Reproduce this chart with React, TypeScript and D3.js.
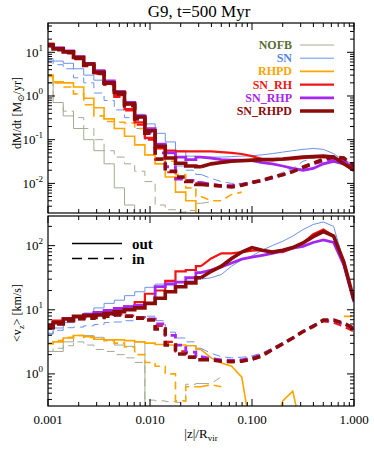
import React from "react";
import * as d3 from "d3";

// bin centres in |z|/R_vir (0.1 dex)
const zBins = [
  0.001, 0.00126, 0.00158, 0.002, 0.00251, 0.00316, 0.00398, 0.00501, 0.00631, 0.00794,
  0.01, 0.0126, 0.0158, 0.02, 0.0251, 0.0316, 0.0398, 0.0501, 0.0631, 0.0794,
  0.1, 0.126, 0.158, 0.2, 0.251, 0.316, 0.398, 0.501, 0.631, 0.794, 1.0,
];

const models = ["NOFB", "SN", "RHPD", "SN_RH", "SN_RHP", "SN_RHPD"];
const lineColors = ["#a3ab92", "#6b93ea", "#ffa500", "#f41414", "#a526ee", "#8b0a0a"];
const textColors = ["#5b6d33", "#5583e6", "#ffa500", "#f41414", "#a526ee", "#8b0a0a"];
const lineWidths = [1, 1, 1.6, 2.2, 2.8, 3.6];

// dM/dt [Msun/yr], outflow (solid)
const mdotOutNOFB = [2.0, 0.71, 0.35, 0.18, 0.1, 0.056, 0.028, 0.0079, 0.0032, 0.0006, null, null, null, null, null, null, null, null, null, null, null, null, null, null, null, null, null, null, null, null, null];
const mdotOutSN = [7.2, 6.3, 5.6, 4.2, 3.0, 2.3, 1.9, 1.3, 0.63, 0.38, 0.23, 0.14, 0.089, 0.056, 0.042, 0.04, 0.04, 0.04, 0.041, 0.042, 0.043, 0.045, 0.048, 0.052, 0.056, 0.06, 0.063, 0.06, 0.048, 0.033, 0.028];
const mdotOutRHPD = [3.0, 2.1, 2.0, 1.6, 0.89, 0.54, 0.3, 0.18, 0.12, 0.076, 0.045, 0.028, 0.014, 0.0063, 0.004, 0.001, null, null, null, null, null, null, null, null, null, null, null, null, null, null, null];
const mdotOutSNRH = [15.8, 12.6, 10.5, 7.9, 5.2, 3.3, 1.9, 1.05, 0.5, 0.25, 0.11, 0.063, 0.056, 0.054, 0.054, 0.054, 0.054, 0.052, 0.05, 0.047, 0.042, 0.036, 0.034, 0.035, 0.036, 0.038, 0.04, 0.04, 0.038, 0.032, 0.022];
const mdotOutSNRHP = [14.8, 12.6, 10.7, 7.9, 5.6, 3.8, 2.2, 1.26, 0.71, 0.35, 0.18, 0.079, 0.05, 0.04, 0.035, 0.04, 0.038, 0.035, 0.034, 0.034, 0.033, 0.03, 0.028, 0.025, 0.022, 0.02, 0.022, 0.028, 0.032, 0.028, 0.024];
const mdotOutSNRHPD = [14.8, 12.0, 10.2, 7.6, 5.4, 3.5, 2.0, 1.2, 0.66, 0.33, 0.16, 0.071, 0.038, 0.029, 0.025, 0.024, 0.028, 0.03, 0.032, 0.033, 0.034, 0.035, 0.035, 0.036, 0.038, 0.04, 0.041, 0.042, 0.04, 0.028, 0.02];

// dM/dt [Msun/yr], inflow (dashed)
const mdotInNOFB = [2.0, 0.71, 0.45, 0.32, 0.18, 0.1, 0.056, 0.04, 0.028, 0.019, 0.011, 0.0032, 0.0025, 0.0022, 0.0024, 0.0035, 0.0038, null, null, null, null, null, null, null, null, null, null, null, null, null, null];
const mdotInSN = [6.3, 5.2, 4.2, 2.6, 2.0, 1.17, 0.79, 0.48, 0.32, 0.18, 0.1, 0.063, 0.038, 0.025, 0.02, 0.016, 0.013, 0.011, 0.01, 0.01, 0.0105, 0.012, 0.014, 0.018, 0.022, 0.032, 0.038, 0.042, 0.04, 0.033, 0.025];
const mdotInRHPD = [2.8, 2.0, 1.6, 1.12, 0.63, 0.35, 0.26, 0.25, 0.24, 0.18, 0.11, 0.063, 0.032, 0.016, 0.0079, 0.005, 0.004, 0.004, 0.0056, 0.0063, null, null, null, null, null, null, null, null, null, null, null];
const mdotInSNRH = [15.1, 12.0, 10.0, 7.4, 5.0, 3.2, 1.8, 0.95, 0.47, 0.22, 0.1, 0.035, 0.018, 0.013, 0.011, 0.0093, 0.0089, 0.0085, 0.0087, 0.0095, 0.0107, 0.012, 0.0138, 0.0158, 0.019, 0.024, 0.03, 0.035, 0.038, 0.035, 0.024];
const mdotInSNRHP = [14.1, 12.0, 10.0, 7.6, 5.2, 3.5, 2.1, 1.17, 0.66, 0.32, 0.15, 0.05, 0.024, 0.0126, 0.0117, 0.0105, 0.0095, 0.0089, 0.0089, 0.0095, 0.0105, 0.0115, 0.0132, 0.0158, 0.019, 0.023, 0.028, 0.032, 0.035, 0.032, 0.024];
const mdotInSNRHPD = [14.1, 11.5, 9.8, 7.2, 5.0, 3.3, 2.0, 1.12, 0.6, 0.3, 0.14, 0.036, 0.019, 0.014, 0.011, 0.0095, 0.0091, 0.0087, 0.0083, 0.0091, 0.0105, 0.0117, 0.0138, 0.0158, 0.0186, 0.0234, 0.0288, 0.0355, 0.0407, 0.038, 0.025];

// <v_z> [km/s], outflow (solid)
const vzOutNOFB = [2.24, 2.24, 3.16, 3.98, 3.98, 3.72, 3.39, 2.82, 2.69, 3.16, 0.1, null, null, null, null, null, null, null, null, null, null, null, null, null, null, null, null, null, null, null, null];
const vzOutSN = [4.3, 5.2, 6.3, 7.4, 8.9, 10.7, 12.6, 14.1, 16.6, 19.1, 22.4, 25.1, 26.3, 27.5, 28.2, 30.2, 31.6, 35.5, 47.9, 60.3, 69.2, 85.1, 100, 117, 141, 178, 214, 234, 200, 56.2, 14.1];
const vzOutRHPD = [2.95, 3.16, 3.63, 3.98, 3.8, 3.47, 3.39, 3.39, 3.31, 3.16, 3.02, 2.88, 2.82, 2.82, 2.75, 2.4, 1.78, 1.48, 1.32, 0.89, 0.1, 0.1, 0.1, 0.38, 0.54, 0.1, null, null, null, null, null];
const vzOutSNRH = [5.9, 6.8, 7.4, 7.9, 8.3, 8.7, 9.3, 10, 11.2, 13.2, 17.8, 20, 28.2, 39.8, 41.7, 47.9, 63.1, 75.9, 75.9, 79.4, 83.2, 85.1, 79.4, 79.4, 91.2, 110, 151, 178, 141, 50.1, 14.1];
const vzOutSNRHP = [5.5, 6.3, 7.2, 7.9, 8.5, 9.1, 9.8, 10.5, 11.2, 11.7, 12.6, 22.9, 25.1, 26.9, 31.6, 38.0, 41.7, 46.8, 53.7, 61.7, 66.1, 70.8, 75.9, 83.2, 91.2, 97.7, 112, 123, 112, 50.1, 13.2];
const vzOutSNRHPD = [5.5, 6.3, 7.2, 7.9, 8.1, 8.3, 8.7, 9.3, 10, 10.7, 12.6, 15.1, 19.1, 22.9, 26.3, 31.6, 39.8, 47.9, 63.1, 79.4, 93.3, 85.1, 79.4, 85.1, 93.3, 110, 138, 166, 141, 56.2, 14.1];

// <v_z> [km/s], inflow (dashed)
const vzInNOFB = [2.24, 2.51, 2.75, 3.16, 2.82, 2.4, 2.24, 2.0, 1.78, 1.51, 0.39, 0.38, 0.37, 0.36, 0.69, 0.71, 0.71, 0.9, null, null, null, null, null, null, null, null, null, null, null, null, null];
const vzInSN = [4.17, 4.79, 5.25, 5.37, 5.62, 5.89, 6.31, 6.46, 6.76, 7.24, 7.94, 6.76, 4.47, 3.63, 3.16, 2.51, 2.09, 1.86, 1.78, 1.82, 1.91, 2.14, 2.51, 3.09, 3.8, 4.68, 5.75, 6.61, 6.61, 6.03, 5.01];
const vzInRHPD = [2.95, 3.31, 3.72, 3.98, 3.72, 3.47, 3.31, 3.02, 2.63, 2.0, 1.51, 1.32, 1.0, 0.38, 0.63, 0.63, 0.68, 0.63, null, null, null, null, null, null, null, null, null, null, null, 7.9, 7.9];
const vzInSNRH = [5.62, 6.31, 7.08, 7.59, 7.59, 7.94, 8.32, 8.51, 8.13, 7.59, 7.08, 5.62, 3.16, 2.24, 1.86, 1.7, 1.62, 1.58, 1.55, 1.58, 1.66, 1.91, 2.34, 2.88, 3.63, 4.57, 5.62, 6.61, 6.31, 5.5, 4.57];
const vzInSNRHP = [5.25, 6.03, 6.76, 7.24, 7.41, 7.76, 8.13, 8.32, 7.94, 7.59, 7.24, 6.03, 3.98, 2.82, 2.19, 1.86, 1.74, 1.66, 1.62, 1.66, 1.78, 2.0, 2.4, 2.95, 3.63, 4.57, 5.62, 6.76, 6.76, 6.03, 5.01];
const vzInSNRHPD = [5.25, 6.03, 6.76, 7.24, 7.41, 7.59, 7.94, 8.32, 7.94, 7.41, 6.92, 5.01, 2.82, 2.04, 1.82, 1.66, 1.66, 1.58, 1.55, 1.58, 1.7, 1.91, 2.4, 2.95, 3.63, 4.57, 5.5, 6.92, 6.92, 6.17, 5.13];

const mdotOut = [mdotOutNOFB, mdotOutSN, mdotOutRHPD, mdotOutSNRH, mdotOutSNRHP, mdotOutSNRHPD];
const mdotIn = [mdotInNOFB, mdotInSN, mdotInRHPD, mdotInSNRH, mdotInSNRHP, mdotInSNRHPD];
const vzOut = [vzOutNOFB, vzOutSN, vzOutRHPD, vzOutSNRH, vzOutSNRHP, vzOutSNRHPD];
const vzIn = [vzInNOFB, vzInSN, vzInRHPD, vzInSNRH, vzInSNRHP, vzInSNRHPD];

const xTickLabels = ["0.001", "0.010", "0.100", "1.000"];

const FONT = "'Liberation Serif', 'DejaVu Serif', serif";
const X0 = 48;
const X1 = 354;
const DASH = "8,5";
// histogram steps are visible only at small |z|; beyond this bin the curves look smooth
const STEP_END = 15;

const x = d3.scaleLog().domain([0.001, 1]).range([X0, X1]);
const yTop = d3.scaleLog().domain([0.0021, 46.8]).range([213, 23]);
const yBot = d3.scaleLog().domain([0.316, 290]).range([406, 216]);

const logTicks = (lo, hi) => {
  const major = [];
  const minor = [];
  for (let e = Math.floor(Math.log10(lo)); e <= Math.ceil(Math.log10(hi)); e++) {
    for (let m = 1; m < 10; m++) {
      const v = m * Math.pow(10, e);
      if (v < lo * 0.999 || v > hi * 1.001) continue;
      if (m === 1) major.push(v);
      else minor.push(v);
    }
  }
  return { major, minor };
};

const Panel = ({ y, clipId, outData, inData, showXLabels, children }) => {
  const [yb, yt] = y.range();
  const xt = logTicks(0.001, 1);
  const ytk = logTicks(y.domain()[0], y.domain()[1]);

  const pts = (vals) => vals.map((v, i) => [x(zBins[i]), v == null ? null : y(v)]);
  const stepLine = d3.line().defined((p) => p[1] != null).curve(d3.curveStep);
  const smoothLine = d3.line().defined((p) => p[1] != null).curve(d3.curveLinear);
  const pathOf = (vals) => {
    const p = pts(vals);
    return (stepLine(p.slice(0, STEP_END + 1)) || "") + (smoothLine(p.slice(STEP_END)) || "");
  };

  return (
    <g>
      <defs>
        <clipPath id={clipId}>
          <rect x={X0} y={yt} width={X1 - X0} height={yb - yt} />
        </clipPath>
      </defs>
      <g clipPath={`url(#${clipId})`} fill="none" strokeLinejoin="miter">
        {models.map((m, i) => (
          <g key={m}>
            <path d={pathOf(inData[i])} stroke={lineColors[i]} strokeWidth={lineWidths[i]} strokeDasharray={DASH} />
            <path d={pathOf(outData[i])} stroke={lineColors[i]} strokeWidth={lineWidths[i]} />
          </g>
        ))}
      </g>
      {/* ticks, inward on all four sides */}
      <g stroke="#000" strokeWidth={1}>
        {xt.major.map((v) => (
          <g key={"xM" + v}>
            <line x1={x(v)} x2={x(v)} y1={yb} y2={yb - 7} />
            <line x1={x(v)} x2={x(v)} y1={yt} y2={yt + 7} />
          </g>
        ))}
        {xt.minor.map((v) => (
          <g key={"xm" + v}>
            <line x1={x(v)} x2={x(v)} y1={yb} y2={yb - 4} />
            <line x1={x(v)} x2={x(v)} y1={yt} y2={yt + 4} />
          </g>
        ))}
        {ytk.major.map((v) => (
          <g key={"yM" + v}>
            <line x1={X0} x2={X0 + 7} y1={y(v)} y2={y(v)} />
            <line x1={X1} x2={X1 - 7} y1={y(v)} y2={y(v)} />
          </g>
        ))}
        {ytk.minor.map((v) => (
          <g key={"ym" + v}>
            <line x1={X0} x2={X0 + 4} y1={y(v)} y2={y(v)} />
            <line x1={X1} x2={X1 - 4} y1={y(v)} y2={y(v)} />
          </g>
        ))}
      </g>
      <rect x={X0} y={yt} width={X1 - X0} height={yb - yt} fill="none" stroke="#000" strokeWidth={1.2} />
      {ytk.major.map((v) => (
        <text key={"yl" + v} x={43} y={y(v) + 4.5} textAnchor="end" fontFamily={FONT} fontSize={13} fill="#000">
          10
          <tspan dy={-6} fontSize={9}>{Math.round(Math.log10(v))}</tspan>
        </text>
      ))}
      {showXLabels &&
        xt.major.map((v, i) => (
          <text key={"xl" + v} x={x(v)} y={yb + 18} textAnchor="middle" fontFamily={FONT} fontSize={13} fill="#000">
            {xTickLabels[i]}
          </text>
        ))}
      {children}
    </g>
  );
};

export default function App() {
  return (
    <svg width={374} height={450} style={{ position: "absolute", left: 0, top: 0, background: "#fff" }}>
      <text x={199} y={17} textAnchor="middle" fontFamily={FONT} fontSize={17} fill="#000">
        G9, t=500 Myr
      </text>

      <Panel y={yTop} clipId="clipTop" outData={mdotOut} inData={mdotIn} showXLabels={false}>
        {models.map((m, i) => {
          const yy = 45 + i * 13.2;
          return (
            <g key={"lg" + m}>
              <text x={292} y={yy + 4} textAnchor="end" fontFamily={FONT} fontWeight="bold" fontSize={12} fill={textColors[i]}>
                {m}
              </text>
              <line x1={300} x2={334} y1={yy} y2={yy} stroke={lineColors[i]} strokeWidth={lineWidths[i]} />
            </g>
          );
        })}
      </Panel>

      <Panel y={yBot} clipId="clipBot" outData={vzOut} inData={vzIn} showXLabels={true}>
        <line x1={72} x2={122} y1={243.5} y2={243.5} stroke="#000" strokeWidth={1.5} />
        <line x1={72} x2={122} y1={258.5} y2={258.5} stroke="#000" strokeWidth={1.5} strokeDasharray="10,6" />
        <text x={132} y={248.5} fontFamily={FONT} fontWeight="bold" fontSize={15} fill="#000">out</text>
        <text x={132} y={263.5} fontFamily={FONT} fontWeight="bold" fontSize={15} fill="#000">in</text>
      </Panel>

      <text transform="translate(21,113) rotate(-90)" textAnchor="middle" fontFamily={FONT} fontSize={12} fill="#000">
        dM/dt [M
        <tspan dy={3} fontSize={9}>⊙</tspan>
        <tspan dy={-3}>/yr]</tspan>
      </text>
      <text transform="translate(21,313) rotate(-90)" textAnchor="middle" fontFamily={FONT} fontSize={12} fill="#000">
        {"<v"}
        <tspan dy={3} fontSize={9}>z</tspan>
        <tspan dy={-3}>{"> [km/s]"}</tspan>
      </text>
      <text x={201} y={438} textAnchor="middle" fontFamily={FONT} fontSize={13} fill="#000">
        |z|/R
        <tspan dy={3} fontSize={9}>vir</tspan>
      </text>
    </svg>
  );
}
